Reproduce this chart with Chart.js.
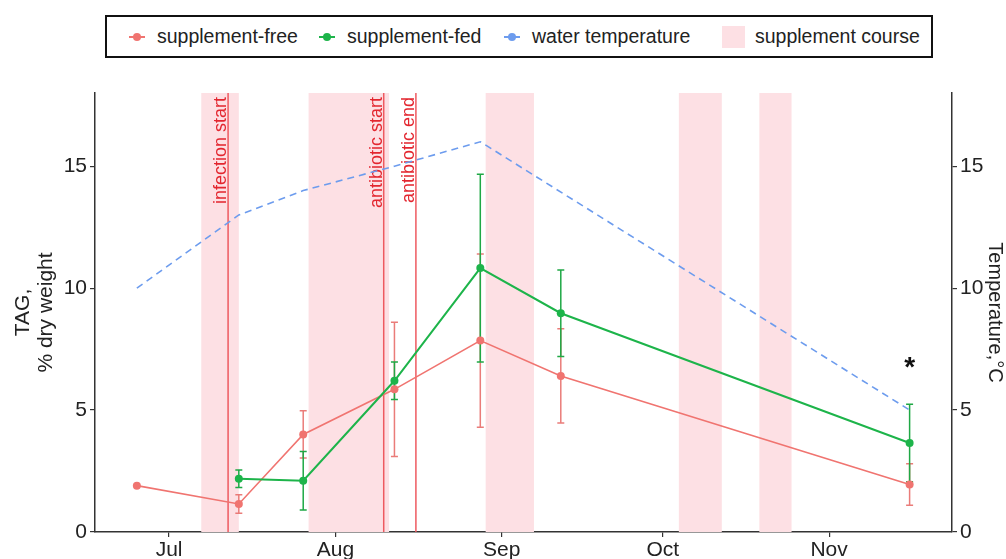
<!DOCTYPE html>
<html>
<head>
<meta charset="utf-8">
<script src="https://cdn.jsdelivr.net/npm/chart.js@4.4.1/dist/chart.umd.min.js"></script>
<style>
  html, body { margin: 0; padding: 0; background: #fff; }
  #wrap { position: relative; width: 1006px; height: 559px; }
  #tagChart { position: absolute; left: 0; top: 0; }
  #legend {
    position: absolute; left: 105px; top: 15px; width: 828px; height: 43px;
    border: 2px solid #111; box-sizing: border-box; background: #fff;
    font-family: "Liberation Sans", Arial, sans-serif; font-size: 19.5px; color: #222;
  }
  #legend .item { position: absolute; top: 0; height: 39px; display: flex; align-items: center; }
  #legend .mark { position: relative; width: 16px; height: 10px; margin-right: 12px; }
  #legend .mark::before { content: ""; position: absolute; left: 0; right: 0; top: 4px; height: 2px; background: var(--c); }
  #legend .mark::after { content: ""; position: absolute; left: 4px; top: 1px; width: 8px; height: 8px; border-radius: 50%; background: var(--c); }
  #legend .swatch { width: 23px; height: 22px; margin-right: 10px; background: #fde0e4; }
</style>
</head>
<body>
<div id="wrap">
  <canvas id="tagChart" width="1006" height="559"></canvas>
  <div id="legend">
    <div class="item" style="left:22px"><span class="mark" style="--c:#f07470"></span>supplement-free</div>
    <div class="item" style="left:212px"><span class="mark" style="--c:#1db44a"></span>supplement-fed</div>
    <div class="item" style="left:397px"><span class="mark" style="--c:#6d9cee"></span>water temperature</div>
    <div class="item" style="left:615px"><span class="swatch"></span>supplement course</div>
  </div>
</div>

<script>
// day numbers counted from 1 July
const MONTH_DAYS   = [0, 31, 62, 92, 123];
const MONTH_LABELS = ['Jul', 'Aug', 'Sep', 'Oct', 'Nov'];

// TAG, % dry weight (mean ± error)
const DAYS_FREE = [-6, 13, 25, 42, 58, 73, 138];
const TAG_FREE  = [1.9, 1.15, 4.0, 5.85, 7.85, 6.4, 1.95];
const ERR_FREE  = [0, 0.38, 0.97, 2.75, 3.55, 1.93, 0.85];

const DAYS_FED = [13, 25, 42, 58, 73, 138];
const TAG_FED  = [2.18, 2.1, 6.2, 10.82, 8.97, 3.65];
const ERR_FED  = [0.36, 1.2, 0.77, 3.85, 1.77, 1.59];

// water temperature, °C
const DAYS_TEMP = [-6, 13, 25, 42, 58, 138];
const TEMP      = [10, 13, 14, 15, 16, 5];

// supplement course periods
const COURSE_START = [6, 26, 59, 95, 110];
const COURSE_END   = [13, 41, 68, 103, 116];

// events
const EVENT_DAYS   = [11, 40, 46];
const EVENT_LABELS = ['infection start', 'antibiotic start', 'antibiotic end'];

// significance mark
const STAR_DAY = 138;
const STAR_Y   = 6.4;

const RED = '#f07470', GREEN = '#1db44a', BLUE = '#6d9cee';
const FONT = '"Liberation Sans", Arial, sans-serif';
Chart.defaults.font.family = FONT;

const pts = (xs, ys) => xs.map((d, i) => ({ x: d, y: ys[i] }));

const overlay = {
  id: 'overlay',
  beforeDatasetsDraw(chart) {
    const { ctx, chartArea: a, scales: { x, y } } = chart;
    ctx.save();
    ctx.beginPath(); ctx.rect(a.left, a.top, a.width, a.height); ctx.clip();

    // supplement course bands
    ctx.fillStyle = '#fde0e4';
    COURSE_START.forEach((s, i) => {
      const x0 = x.getPixelForValue(s), x1 = x.getPixelForValue(COURSE_END[i]);
      ctx.fillRect(x0, a.top, x1 - x0, a.height);
    });

    // event lines with rotated labels
    EVENT_DAYS.forEach((d, i) => {
      const px = x.getPixelForValue(d);
      ctx.strokeStyle = '#ee5a60'; ctx.lineWidth = 1.5;
      ctx.beginPath(); ctx.moveTo(px, a.top); ctx.lineTo(px, a.bottom); ctx.stroke();
      ctx.save();
      ctx.translate(px - 2, a.top + 4);
      ctx.rotate(-Math.PI / 2);
      ctx.fillStyle = '#e3262f';
      ctx.font = '18px ' + FONT;
      ctx.textAlign = 'right'; ctx.textBaseline = 'alphabetic';
      ctx.fillText(EVENT_LABELS[i], 0, 0);
      ctx.restore();
    });

    // error bars
    const bars = (xs, ys, es, color) => {
      ctx.strokeStyle = color; ctx.lineWidth = 1.5;
      xs.forEach((d, i) => {
        if (!es[i]) return;
        const px = x.getPixelForValue(d);
        const hi = y.getPixelForValue(ys[i] + es[i]), lo = y.getPixelForValue(ys[i] - es[i]);
        ctx.beginPath();
        ctx.moveTo(px, hi); ctx.lineTo(px, lo);
        ctx.moveTo(px - 3.5, hi); ctx.lineTo(px + 3.5, hi);
        ctx.moveTo(px - 3.5, lo); ctx.lineTo(px + 3.5, lo);
        ctx.stroke();
      });
    };
    bars(DAYS_FREE, TAG_FREE, ERR_FREE, 'rgba(232,110,106,0.9)');
    bars(DAYS_FED, TAG_FED, ERR_FED, '#1fa845');
    ctx.restore();
  },
  afterDatasetsDraw(chart) {
    const { ctx, scales: { x, y } } = chart;
    ctx.save();
    ctx.fillStyle = '#111';
    ctx.font = 'bold 28px ' + FONT;
    ctx.textAlign = 'center'; ctx.textBaseline = 'alphabetic';
    ctx.fillText('*', x.getPixelForValue(STAR_DAY), y.getPixelForValue(STAR_Y));
    ctx.restore();
  }
};

const axisLook = {
  border: { display: true, color: '#333', width: 1.5 },
  grid: { display: true, drawOnChartArea: false, drawTicks: true, tickLength: 5, color: '#333', lineWidth: 1.2 }
};

new Chart(document.getElementById('tagChart').getContext('2d'), {
  type: 'line',
  data: {
    datasets: [
      {
        label: 'water temperature', yAxisID: 'y2', order: 0,
        data: pts(DAYS_TEMP, TEMP),
        borderColor: BLUE, borderWidth: 1.6, borderDash: [7, 5], pointRadius: 0
      },
      {
        label: 'supplement-fed', yAxisID: 'y', order: 1,
        data: pts(DAYS_FED, TAG_FED),
        borderColor: GREEN, backgroundColor: GREEN, borderWidth: 2,
        pointRadius: 4, pointBorderWidth: 0
      },
      {
        label: 'supplement-free', yAxisID: 'y', order: 2,
        data: pts(DAYS_FREE, TAG_FREE),
        borderColor: RED, backgroundColor: RED, borderWidth: 1.6,
        pointRadius: 4, pointBorderWidth: 0
      }
    ]
  },
  options: {
    responsive: false,
    animation: false,
    events: [],
    layout: { padding: { top: 93, left: 0, right: 0, bottom: 0 } },
    plugins: { legend: { display: false }, tooltip: { enabled: false } },
    scales: {
      x: {
        type: 'linear', min: -13.8, max: 145.9,
        ...axisLook,
        afterBuildTicks: s => { s.ticks = MONTH_DAYS.map(v => ({ value: v })); },
        afterFit: s => { s.height = 27; },
        ticks: {
          padding: 1, color: '#222', font: { size: 21 },
          callback: v => MONTH_LABELS[MONTH_DAYS.indexOf(v)] ?? ''
        }
      },
      y: {
        position: 'left', min: 0, max: 18,
        ...axisLook,
        afterFit: s => { s.width = 95; },
        ticks: { stepSize: 5, includeBounds: false, padding: 3, color: '#222', font: { size: 21 } },
        title: {
          display: true, text: ['TAG,', '% dry weight'], color: '#222',
          font: { size: 21, lineHeight: 1.1 }, padding: { top: 12, bottom: 0 }
        }
      },
      y2: {
        position: 'right', min: 0, max: 18,
        ...axisLook,
        afterFit: s => { s.width = 54; },
        ticks: { stepSize: 5, includeBounds: false, padding: 3, color: '#222', font: { size: 21 } },
        title: {
          display: true, text: 'Temperature,°C', color: '#222',
          font: { size: 20, lineHeight: 1.1 }, padding: { top: 0, bottom: 0 }
        }
      }
    }
  },
  plugins: [overlay]
});
</script>
</body>
</html>
